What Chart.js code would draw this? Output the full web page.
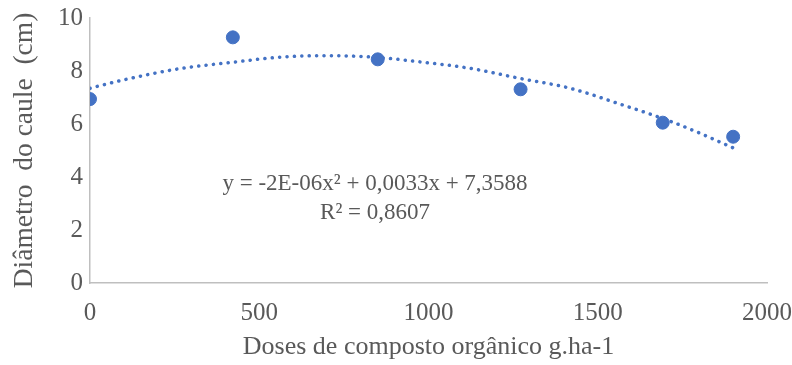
<!DOCTYPE html>
<html>
<head>
<meta charset="utf-8">
<script src="https://cdn.jsdelivr.net/npm/chart.js@4/dist/chart.umd.min.js"></script>
<style>
  html, body { margin: 0; padding: 0; background: #fff; }
  #wrap { width: 792px; height: 365px; position: relative; }
</style>
</head>
<body>
<div id="wrap"><canvas id="chart"></canvas></div>
<script>
// measured values (diâmetro do caule vs dose)
const doses = [0, 422, 850, 1272, 1692, 1900];
const diametro = [6.94, 9.27, 8.44, 7.31, 6.05, 5.52];

// polynomial trendline
const trendX = [0, 108, 266, 422, 560, 700, 840, 984, 1123, 1270, 1418, 1566, 1713, 1802, 1900];
const trendY = [7.35, 7.69, 8.09, 8.33, 8.52, 8.58, 8.52, 8.33, 8.10, 7.72, 7.35, 6.75, 6.11, 5.65, 5.10];

const xTicks = [0, 500, 1000, 1500, 2000];
const yTicks = [0, 2, 4, 6, 8, 10];

const eqLines = ['y = -2E-06x² + 0,0033x + 7,3588', 'R² = 0,8607'];

const blue = '#4472C4';
const grey = '#595959';
const serif = '"Liberation Serif", "Times New Roman", serif';

// equation label placed in data coordinates
const eqPlugin = {
  id: 'eqLabel',
  afterDatasetsDraw(chart) {
    const { ctx, scales } = chart;
    const cx = scales.x.getPixelForValue(842);
    ctx.save();
    ctx.font = '23px ' + serif;
    ctx.fillStyle = grey;
    ctx.textAlign = 'center';
    ctx.textBaseline = 'middle';
    ctx.fillText(eqLines[0], cx, scales.y.getPixelForValue(3.72));
    ctx.fillText(eqLines[1], cx, scales.y.getPixelForValue(2.66));
    ctx.restore();
  }
};

new Chart(document.getElementById('chart'), {
  type: 'scatter',
  data: {
    datasets: [
      {
        data: doses.map((d, i) => ({ x: d, y: diametro[i] })),
        backgroundColor: blue,
        borderColor: blue,
        pointRadius: 6.5,
        pointHoverRadius: 6.5,
        order: 1
      },
      {
        type: 'line',
        data: trendX.map((d, i) => ({ x: d, y: trendY[i] })),
        borderColor: blue,
        borderWidth: 3.5,
        borderDash: [0.1, 7.3],
        borderCapStyle: 'round',
        pointRadius: 0,
        fill: false,
        cubicInterpolationMode: 'monotone',
        order: 2
      }
    ]
  },
  options: {
    responsive: true,
    maintainAspectRatio: false,
    animation: false,
    events: [],
    layout: { padding: { top: 18, right: 0, left: 0, bottom: 0 } },
    plugins: {
      legend: { display: false },
      tooltip: { enabled: false }
    },
    scales: {
      x: {
        type: 'linear',
        min: 0, max: 2000,
        afterBuildTicks: s => { s.ticks = xTicks.map(v => ({ value: v })); },
        afterFit: s => { s.height = 82; s.paddingRight = 25; s.paddingLeft = 0; },
        grid: { display: false, drawTicks: false },
        border: { color: '#BFBFBF', width: 1.5 },
        ticks: { color: grey, font: { family: serif, size: 25 }, padding: 15, callback: v => String(v) },
        title: { display: true, text: 'Doses de composto orgânico g.ha-1', color: grey, font: { family: serif, size: 26 }, padding: { top: 0, bottom: 2 } }
      },
      y: {
        min: 0, max: 10,
        afterBuildTicks: s => { s.ticks = yTicks.map(v => ({ value: v })); },
        afterFit: s => { s.width = 90; s.paddingTop = 0; s.paddingBottom = 0; },
        grid: { display: false, drawTicks: false },
        border: { color: '#BFBFBF', width: 1.5 },
        ticks: { color: grey, font: { family: serif, size: 25 }, padding: 7, callback: v => String(v) },
        title: { display: true, text: 'Diâmetro  do caule  (cm)', color: grey, font: { family: serif, size: 27.5 }, padding: { top: 8, bottom: 0 } }
      }
    }
  },
  plugins: [eqPlugin]
});
</script>
</body>
</html>
